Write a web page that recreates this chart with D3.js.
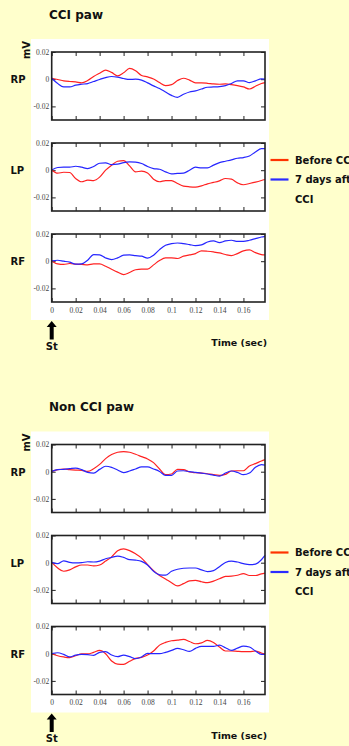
<!DOCTYPE html>
<html>
<head>
<meta charset="utf-8">
<script src="https://cdn.jsdelivr.net/npm/d3@7/dist/d3.min.js"></script>
<style>
  html, body { margin: 0; padding: 0; background: #FFFFCC; }
  svg { display: block; }
</style>
</head>
<body>
<svg id="chart" width="349" height="746"></svg>
<script>
// ---------- DATA ----------
const time = [0, 0.005, 0.01, 0.015, 0.02, 0.025, 0.03, 0.035, 0.04, 0.045, 0.05, 0.055, 0.06, 0.065, 0.07, 0.075, 0.08, 0.085, 0.09, 0.095, 0.1, 0.105, 0.11, 0.115, 0.12, 0.125, 0.13, 0.135, 0.14, 0.145, 0.15, 0.155, 0.16, 0.165, 0.17, 0.175, 0.178];

const groupTitles = ["CCI paw", "Non CCI paw"];
const panelLabels = ["RP", "LP", "RF"];
const seriesNames = ["Before CCI", "7 days after", "CCI"];
const xTickValues = [0, 0.02, 0.04, 0.06, 0.08, 0.1, 0.12, 0.14, 0.16];
const xTickLabels = ["0", "0.02", "0.04", "0.06", "0.08", "0.1", "0.12", "0.14", "0.16"];
const yTickValues = [0.02, 0, -0.02];
const yTickLabels = ["0.02", "0", "-0.02"];

// CCI paw
const cciRPBefore = [0.0007, -0.0002, -0.0012, -0.0017, -0.002, -0.0027, -0.001, 0.002, 0.0044, 0.0067, 0.005, 0.0025, 0.0047, 0.0079, 0.0062, 0.0027, 0.0017, 0.0002, -0.0025, -0.0047, -0.004, -0.001, 0.0007, -0.0007, -0.0027, -0.0027, -0.003, -0.0035, -0.0037, -0.0035, -0.004, -0.0047, -0.0057, -0.0072, -0.0052, -0.0032, -0.0025];
const cciRPAfter = [0.0007, -0.0032, -0.0057, -0.0057, -0.0044, -0.0037, -0.0032, -0.0017, -0.0002, 0.0012, 0.002, 0.0015, 0.0005, -0.0002, 0, -0.0007, -0.0027, -0.0049, -0.0069, -0.0094, -0.0119, -0.0133, -0.0111, -0.0094, -0.0086, -0.0072, -0.0059, -0.0057, -0.0054, -0.0047, -0.0032, -0.0012, -0.0012, -0.0025, -0.0012, 0.0002, 0];
const cciLPBefore = [0.0002, -0.0022, -0.0015, -0.0017, -0.0061, -0.0085, -0.0073, -0.0076, -0.0051, 0, 0.0037, 0.0066, 0.0071, 0.0032, -0.0012, -0.0007, -0.002, -0.0066, -0.0085, -0.0076, -0.0076, -0.0098, -0.0117, -0.0122, -0.0124, -0.0115, -0.01, -0.009, -0.0078, -0.0061, -0.0066, -0.0093, -0.0107, -0.0098, -0.0088, -0.0076, -0.0068];
const cciLPAfter = [0.0002, 0.002, 0.0022, 0.0022, 0.0029, 0.0022, 0.0012, 0.0027, 0.0051, 0.0054, 0.0041, 0.0044, 0.0056, 0.0061, 0.0059, 0.0049, 0.0027, 0.0012, 0.0007, -0.0012, -0.0027, -0.0024, -0.0022, 0, 0.0022, 0.0017, 0.0017, 0.0037, 0.0056, 0.0066, 0.0076, 0.0088, 0.0093, 0.0105, 0.0134, 0.0159, 0.0159];
const cciRFBefore = [0.0002, -0.002, -0.0024, -0.0017, -0.0022, -0.0024, -0.0027, -0.002, -0.002, -0.0037, -0.0059, -0.008, -0.0098, -0.0083, -0.0063, -0.0059, -0.0059, -0.0027, 0.0005, 0.0024, 0.0024, 0.002, 0.0037, 0.0046, 0.0056, 0.0076, 0.0073, 0.0068, 0.0061, 0.0049, 0.0041, 0.0056, 0.0076, 0.0083, 0.0063, 0.0049, 0.0046];
const cciRFAfter = [0.0002, 0.0007, 0, -0.0007, -0.0022, -0.002, 0.0007, 0.0049, 0.0046, 0.0024, 0.0012, 0.0024, 0.0044, 0.0046, 0.0041, 0.0037, 0.0022, 0.0044, 0.0085, 0.0117, 0.0129, 0.0134, 0.0129, 0.0122, 0.0115, 0.012, 0.0141, 0.0149, 0.0137, 0.0149, 0.0154, 0.0146, 0.0146, 0.0154, 0.0166, 0.0178, 0.0183];

// Non CCI paw
const nonRPBefore = [0.0002, 0.0015, 0.002, 0.0015, 0.0012, 0.001, 0.0002, 0.0022, 0.0054, 0.0096, 0.0126, 0.0143, 0.0148, 0.0143, 0.0128, 0.0111, 0.0094, 0.0067, 0.002, -0.0022, -0.0017, 0.0017, 0.0015, -0.0002, -0.0007, -0.001, -0.0015, -0.0022, -0.0027, -0.002, 0.0005, 0.0007, 0.0007, 0.0042, 0.0059, 0.0079, 0.0089];
const nonRPAfter = [0.0002, 0.0015, 0.0017, 0.0022, 0.0027, 0.0015, -0.0005, -0.001, 0.0017, 0.004, 0.0032, 0.0012, -0.0007, 0.0005, 0.002, 0.0035, 0.0035, 0.002, 0.0002, -0.0027, -0.0027, 0.0005, 0.0007, 0, -0.0005, -0.001, -0.0017, -0.0025, -0.0032, -0.001, 0.0005, -0.0005, -0.0022, -0.001, 0.0032, 0.0052, 0.0049];
const nonLPBefore = [0.0002, -0.0039, -0.0063, -0.0053, -0.0031, -0.0017, -0.0017, -0.0024, -0.0017, 0.0012, 0.0043, 0.0087, 0.0101, 0.0089, 0.0065, 0.0034, -0.0014, -0.0058, -0.0094, -0.012, -0.0147, -0.0171, -0.0154, -0.0133, -0.013, -0.014, -0.0147, -0.0135, -0.0118, -0.0101, -0.0099, -0.0092, -0.008, -0.0094, -0.0094, -0.0082, -0.0077];
const nonLPAfter = [0.0002, -0.0007, 0.0014, 0.0002, -0.0002, 0, 0.0007, 0.0005, 0.0012, 0.0029, 0.0039, 0.0048, 0.0039, 0.0022, 0.0019, 0.001, -0.0017, -0.0063, -0.0089, -0.0092, -0.0063, -0.0048, -0.0041, -0.0039, -0.0039, -0.0053, -0.0065, -0.0058, -0.0029, 0.0002, 0.0012, 0.0005, -0.0007, -0.0014, -0.001, 0.0022, 0.0053];
const nonRFBefore = [0, -0.0015, -0.0024, -0.0029, -0.0015, -0.0002, -0.0002, 0.001, 0.0024, 0, -0.0054, -0.0076, -0.0078, -0.0056, -0.0034, -0.0027, -0.001, 0.002, 0.0063, 0.0083, 0.0095, 0.01, 0.0105, 0.009, 0.0073, 0.008, 0.0098, 0.0083, 0.0049, 0.002, 0.002, 0.0017, 0.0015, 0.0015, 0.002, 0.0005, -0.0002];
const nonRFAfter = [0, 0.0007, -0.0005, -0.0024, -0.001, -0.0005, -0.0007, -0.0012, 0.001, 0.0015, -0.001, -0.0022, -0.001, -0.0022, -0.0037, -0.0024, 0.0002, 0, 0, 0.001, 0.0024, 0.0039, 0.0029, 0.0017, 0.0039, 0.0054, 0.0054, 0.0054, 0.0063, 0.0044, 0.0024, 0.0041, 0.0056, 0.0049, 0.002, -0.0005, -0.0005];

const groupsData = [
  [[cciRPBefore, cciRPAfter], [cciLPBefore, cciLPAfter], [cciRFBefore, cciRFAfter]],
  [[nonRPBefore, nonRPAfter], [nonLPBefore, nonLPAfter], [nonRFBefore, nonRFAfter]]
];

// ---------- LAYOUT ----------
const svg = d3.select("#chart");
const groupOffsets = [0, 392.5];
const panelTops = [52, 143, 234];
const panelH = 68;
const plotLeft = 51.7, plotRight = 265;
const x = d3.scaleLinear().domain([0, 0.178]).range([plotLeft, plotRight]);
const lineColors = ["#FF2222", "#2626FF"];
const legendColors = ["#FF3300", "#2B2BFF"];
const boldFont = "'DejaVu Sans', Verdana, sans-serif";
const tickFont = "'Liberation Serif', 'Times New Roman', serif";

groupOffsets.forEach((off, gi) => {
  const g = svg.append("g").attr("transform", `translate(0,${off})`);

  // white backing panel
  g.append("rect").attr("x", 31).attr("y", 39).attr("width", 238).attr("height", 281).attr("fill", "#FFFFFF");

  // group title
  g.append("text").attr("x", 49).attr("y", 18.5)
    .attr("font-family", boldFont).attr("font-weight", "bold").attr("font-size", 12)
    .attr("fill", "#111").text(groupTitles[gi]);

  // mV label
  g.append("text").attr("transform", "translate(29.8,50) rotate(-90)")
    .attr("text-anchor", "middle")
    .attr("font-family", boldFont).attr("font-weight", "bold").attr("font-size", 10)
    .attr("fill", "#111").text("mV");

  panelTops.forEach((top, pi) => {
    const y = d3.scaleLinear().domain([-0.03, 0.02]).range([top + panelH, top]);
    const p = g.append("g");

    // panel label
    p.append("text").attr("x", 10.5).attr("y", y(0) + 3.8)
      .attr("font-family", boldFont).attr("font-weight", "bold").attr("font-size", 10)
      .attr("fill", "#111").text(panelLabels[pi]);

    // axes with inward ticks
    const isLast = pi === panelTops.length - 1;
    const axB = p.append("g").attr("transform", `translate(0,${top + panelH})`)
      .call(d3.axisBottom(x).tickValues(xTickValues).tickSize(-4).tickPadding(5.5)
        .tickFormat((d, i) => isLast ? xTickLabels[i] : ""));
    const axT = p.append("g").attr("transform", `translate(0,${top})`)
      .call(d3.axisTop(x).tickValues(xTickValues).tickSize(-4).tickFormat(""));
    const axL = p.append("g").attr("transform", `translate(${plotLeft},0)`)
      .call(d3.axisLeft(y).tickValues(yTickValues).tickSize(-4).tickPadding(2.5)
        .tickFormat((d, i) => yTickLabels[i]));
    const axR = p.append("g").attr("transform", `translate(${plotRight},0)`)
      .call(d3.axisRight(y).tickValues(yTickValues).tickSize(-4).tickFormat(""));
    [axB, axT, axL, axR].forEach(a => {
      a.select(".domain").remove();
      a.selectAll(".tick line").attr("stroke", "#222").attr("stroke-width", 1);
      a.selectAll(".tick text").attr("font-family", tickFont).attr("font-size", 7.5).attr("fill", "#444");
    });

    // data lines
    const line = d3.line().x((d, i) => x(time[i])).y(d => y(d)).curve(d3.curveMonotoneX);
    groupsData[gi][pi].forEach((series, si) => {
      p.append("path").datum(series).attr("d", line)
        .attr("fill", "none").attr("stroke", lineColors[si]).attr("stroke-width", 1.2);
    });

    // frame
    p.append("rect").attr("x", plotLeft).attr("y", top).attr("width", plotRight - plotLeft).attr("height", panelH)
      .attr("fill", "none").attr("stroke", "#222").attr("stroke-width", 1.6);
  });

  // legend (next to LP panel)
  const lg = g.append("g");
  [0, 1].forEach(si => {
    const ly = [160, 179.5][si];
    lg.append("line").attr("x1", 270.5).attr("x2", 288.5).attr("y1", ly).attr("y2", ly)
      .attr("stroke", legendColors[si]).attr("stroke-width", 2.2);
  });
  [160, 179.5, 199].forEach((ly, i) => {
    lg.append("text").attr("x", 295).attr("y", ly + 3.8)
      .attr("font-family", boldFont).attr("font-weight", "bold").attr("font-size", 10)
      .attr("fill", "#111").text(seriesNames[i]);
  });

  // stimulus arrow and label
  const ax = x(0);
  g.append("path")
    .attr("d", `M${ax},321 L${ax + 5},327 L${ax + 2},327 L${ax + 2},339.5 L${ax - 2},339.5 L${ax - 2},327 L${ax - 5},327 Z`)
    .attr("fill", "#000");
  g.append("text").attr("x", ax).attr("y", 349.5).attr("text-anchor", "middle")
    .attr("font-family", boldFont).attr("font-weight", "bold").attr("font-size", 10)
    .attr("fill", "#111").text("St");

  // time axis title
  g.append("text").attr("x", 267).attr("y", 346).attr("text-anchor", "end")
    .attr("font-family", boldFont).attr("font-weight", "bold").attr("font-size", 9.5)
    .attr("fill", "#111").text("Time (sec)");
});
</script>
</body>
</html>
